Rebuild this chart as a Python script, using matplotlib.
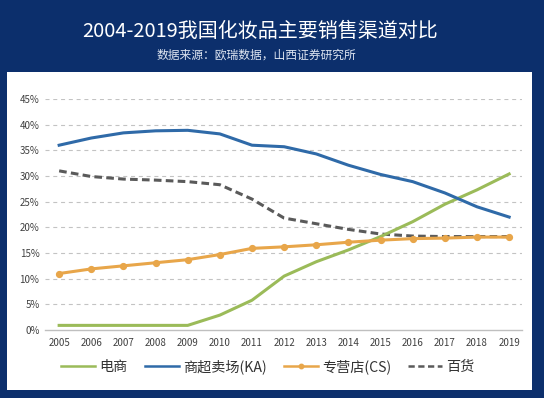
import matplotlib
matplotlib.use("Agg")
import matplotlib.pyplot as plt
from matplotlib.patches import Rectangle
from matplotlib.lines import Line2D

plt.rcParams['font.family'] = ['Noto Sans CJK SC', 'DejaVu Sans']

# data (percent)
years = list(range(2005, 2020))
ecommerce = [0.9, 0.9, 0.9, 0.9, 0.9, 2.9, 5.8, 10.5, 13.3, 15.6, 18.2, 21.1, 24.5, 27.3, 30.4]
ka = [36.0, 37.4, 38.4, 38.8, 38.9, 38.2, 36.0, 35.7, 34.3, 32.1, 30.3, 28.9, 26.7, 24.0, 22.0]
cs = [11.0, 11.9, 12.5, 13.1, 13.7, 14.7, 15.9, 16.2, 16.6, 17.1, 17.5, 17.8, 17.9, 18.1, 18.1]
dept = [31.0, 29.9, 29.4, 29.2, 28.9, 28.3, 25.5, 21.8, 20.7, 19.6, 18.7, 18.3, 18.2, 18.2, 18.2]
series_names = ['电商', '商超卖场(KA)', '专营店(CS)', '百货']
yticks = [0, 5, 10, 15, 20, 25, 30, 35, 40, 45]
ytick_labels = ['%d%%' % v for v in yticks]

navy = '#0c2f6c'
green = '#9bbb59'
blue = '#2f6aa8'
orange = '#e8a64a'
gray = '#5a5a5a'
dash = (0, (2.5, 1.4))

fig = plt.figure(figsize=(5.44, 3.98), dpi=100, facecolor=navy)

# white card behind the chart
fig.patches.append(Rectangle((7/544, 8/398), 525/544, 318/398,
                             transform=fig.transFigure, facecolor='white',
                             edgecolor='none', zorder=-5))

fig.text(260/544, 1 - 31/398, '2004-2019我国化妆品主要销售渠道对比',
         color='white', fontsize=14.4, fontweight='medium', ha='center', va='center')
fig.text(256/544, 1 - 55/398, '数据来源：欧瑞数据，山西证券研究所',
         color='#dfe6f2', fontsize=8.5, ha='center', va='center')

ax = fig.add_axes([45/544, 68/398, 477/544, 231/398])
ax.set_facecolor('none')

ax.plot(years, ecommerce, color=green, lw=2.2, zorder=4)
ax.plot(years, ka, color=blue, lw=2.2, zorder=4)
ax.plot(years, dept, color=gray, lw=2.2, ls=dash, zorder=3)
ax.plot(years, cs, color=orange, lw=2.2, marker='o', ms=4.2, zorder=5)

ax.set_xlim(2004.56, 2019.4)
ax.set_ylim(0, 45)
ax.set_xticks(years)
ax.set_xticklabels([str(y) for y in years])
ax.set_yticks(yticks)
ax.set_yticklabels(ytick_labels)
ax.tick_params(length=0, labelsize=7, colors='#404040', pad=6)
ax.tick_params(axis='y', pad=4)

for v in yticks[1:]:
    ax.axhline(v, color='#c3c3c3', lw=0.8, ls=(0, (3.6, 3.4)), zorder=1)
for side in ['top', 'right', 'left']:
    ax.spines[side].set_visible(False)
ax.spines['bottom'].set_color('#bfbfbf')
ax.spines['bottom'].set_linewidth(1)

# legend keys drawn a bit thinner, like the reference
handles = [Line2D([], [], color=green, lw=1.8),
           Line2D([], [], color=blue, lw=1.8),
           Line2D([], [], color=orange, lw=1.8, marker='o', ms=3.2),
           Line2D([], [], color=gray, lw=1.8, ls=dash)]
fig.legend(handles, series_names,
           loc='center', bbox_to_anchor=(268/544, 31/398), ncol=4,
           frameon=False, fontsize=10.2, handlelength=2.4, columnspacing=1.2,
           handletextpad=0.3, labelcolor='#333333')

fig.savefig('out.png', dpi=100, facecolor=navy)
